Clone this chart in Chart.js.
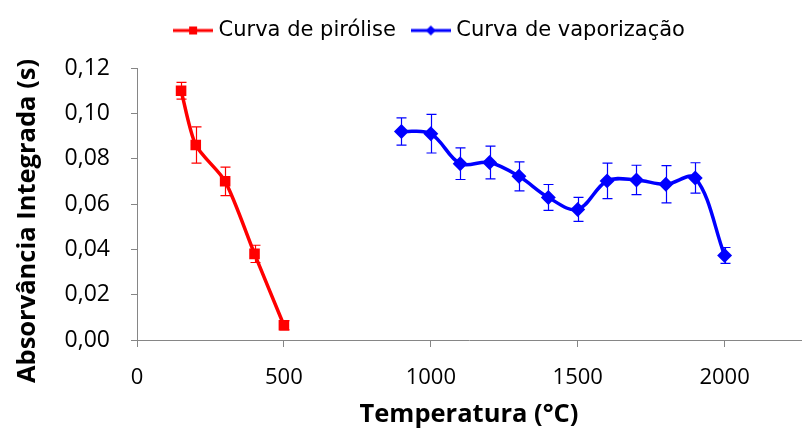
<!DOCTYPE html>
<html>
<head>
<meta charset="utf-8">
<script src="https://cdn.jsdelivr.net/npm/chart.js@4.4.1/dist/chart.umd.min.js"></script>
<style>
  html, body { margin: 0; padding: 0; background: #fff; overflow: hidden; }
  canvas { display: block; }
</style>
</head>
<body>
<canvas id="grafico" width="803" height="430"></canvas>
<script>
// Curva de pirólise (temperatura em °C, absorvância integrada em s)
const tempPirolise = [150, 200, 300, 400, 500];
const absPirolise = [0.110, 0.086, 0.070, 0.038, 0.0065];
const erroPirolise = [0.0037, 0.008, 0.0063, 0.0038, 0.002];

// Curva de vaporização
const tempVaporizacao = [900, 1000, 1100, 1200, 1300, 1400, 1500, 1600, 1700, 1800, 1900, 2000];
const absVaporizacao = [0.092, 0.091, 0.0778, 0.0783, 0.0722, 0.0629, 0.0576, 0.0702, 0.0706, 0.0687, 0.0715, 0.0373];
const erroVaporizacao = [0.006, 0.0085, 0.007, 0.0072, 0.0064, 0.0057, 0.0053, 0.0078, 0.0065, 0.0082, 0.0067, 0.0035];

// marcas dos eixos
const ticksX = [0, 500, 1000, 1500, 2000];
const ticksY = [0, 0.02, 0.04, 0.06, 0.08, 0.10, 0.12];

const nomes = ['Curva de pirólise', 'Curva de vaporização'];
const tituloX = 'Temperatura (°C)';
const tituloY = 'Absorvância Integrada (s)';

const vermelho = '#FF0000';
const azul = '#0000FF';
const cinza = '#868686';

// pares x/y para o chart
function pontos(xs, ys) {
    let p = [];
    for (let i = 0; i < xs.length; i++) {
        p.push({ x: xs[i], y: ys[i] });
    }
    return p;
}

// amostra da legenda: linha com o marcador no meio
function amostra(cor, tipo) {
    const c = document.createElement('canvas');
    c.width = 40;
    c.height = 14;
    const g = c.getContext('2d');
    g.strokeStyle = cor;
    g.lineWidth = 3;
    g.beginPath();
    g.moveTo(0, 7);
    g.lineTo(40, 7);
    g.stroke();
    g.fillStyle = cor;
    if (tipo === 'rect') {
        g.fillRect(16, 3, 8, 8);
    } else {
        g.beginPath();
        g.moveTo(20, 2);
        g.lineTo(25, 7);
        g.lineTo(20, 12);
        g.lineTo(15, 7);
        g.closePath();
        g.fill();
    }
    return c;
}

// barras de erro desenhadas com as escalas do gráfico
const barrasErro = {
    id: 'barrasErro',
    afterDatasetsDraw(chart) {
        const ctx = chart.ctx;
        const sx = chart.scales.x;
        const sy = chart.scales.y;
        chart.data.datasets.forEach(function (ds) {
            ctx.save();
            ctx.strokeStyle = ds.borderColor;
            ctx.lineWidth = 1.2;
            for (let i = 0; i < ds.data.length; i++) {
                const px = Math.round(sx.getPixelForValue(ds.data[i].x)) + 0.5;
                const topo = sy.getPixelForValue(ds.data[i].y + ds.erro[i]);
                const base = sy.getPixelForValue(ds.data[i].y - ds.erro[i]);
                ctx.beginPath();
                ctx.moveTo(px, topo);
                ctx.lineTo(px, base);
                ctx.moveTo(px - 5, topo);
                ctx.lineTo(px + 5, topo);
                ctx.moveTo(px - 5, base);
                ctx.lineTo(px + 5, base);
                ctx.stroke();
            }
            ctx.restore();
        });
    }
};

// título do eixo y
const tituloEixoY = {
    id: 'tituloEixoY',
    afterDraw(chart) {
        const ctx = chart.ctx;
        ctx.save();
        ctx.translate(28, 221);
        ctx.rotate(-Math.PI / 2);
        ctx.font = 'bold 25.5px "Open Sans"';
        ctx.fillStyle = '#000';
        ctx.textAlign = 'center';
        ctx.textBaseline = 'middle';
        ctx.fillText(tituloY, 0, 0);
        ctx.restore();
    }
};

// legenda mais alta, para afastar a área do gráfico
const alturaLegenda = {
    id: 'alturaLegenda',
    beforeUpdate(chart) {
        const lg = chart.legend;
        if (lg && !lg.ajustada) {
            const fitOriginal = lg.fit.bind(lg);
            lg.fit = function () {
                fitOriginal();
                lg.height = 68;
            };
            lg.ajustada = true;
        }
    }
};

const config = {
    type: 'line',
    data: {
        datasets: [
            {
                label: nomes[0],
                data: pontos(tempPirolise, absPirolise),
                erro: erroPirolise,
                borderColor: vermelho,
                backgroundColor: vermelho,
                borderWidth: 3.5,
                pointStyle: 'rect',
                pointRadius: 5,
                pointHoverRadius: 5,
                tension: 0.25,
                legendaImg: amostra(vermelho, 'rect')
            },
            {
                label: nomes[1],
                data: pontos(tempVaporizacao, absVaporizacao),
                erro: erroVaporizacao,
                borderColor: azul,
                backgroundColor: azul,
                borderWidth: 3.5,
                pointStyle: 'rectRot',
                pointRadius: 5,
                pointHoverRadius: 5,
                tension: 0.35,
                legendaImg: amostra(azul, 'rot')
            }
        ]
    },
    options: {
        responsive: false,
        animation: false,
        devicePixelRatio: 1,
        layout: { autoPadding: false, padding: { left: 62, right: 2, top: 0, bottom: 0 } },
        plugins: {
            tooltip: { enabled: false },
            legend: {
                position: 'top',
                labels: {
                    usePointStyle: true,
                    pointStyleWidth: 30,
                    padding: 20,
                    color: '#000',
                    font: { family: '"DejaVu Sans"', size: 21 },
                    generateLabels(chart) {
                        return chart.data.datasets.map(function (ds, i) {
                            return {
                                text: ds.label,
                                pointStyle: ds.legendaImg,
                                fillStyle: ds.borderColor,
                                strokeStyle: ds.borderColor,
                                lineWidth: 0,
                                datasetIndex: i,
                                fontColor: '#000'
                            };
                        });
                    }
                }
            }
        },
        scales: {
            x: {
                type: 'linear',
                min: 0,
                max: 2260,
                border: { display: true, color: cinza, width: 1 },
                grid: { display: true, drawOnChartArea: false, drawTicks: true, tickLength: 7, color: cinza },
                ticks: {
                    padding: 18,
                    color: '#000',
                    font: { family: '"Open Sans"', size: 22 },
                    maxRotation: 0,
                    autoSkip: false,
                    callback: function (v) { return String(v); }
                },
                afterBuildTicks(scale) {
                    scale.ticks = ticksX.map(function (v) { return { value: v }; });
                },
                title: {
                    display: true,
                    text: tituloX,
                    color: '#000',
                    font: { family: '"Open Sans"', size: 25.5, weight: 'bold' },
                    padding: { top: 0, bottom: 0 }
                },
                afterFit(scale) {
                    scale.height = 90;
                    scale.paddingRight = 0;
                    scale.paddingLeft = 0;
                }
            },
            y: {
                min: 0,
                max: 0.12,
                border: { display: true, color: cinza, width: 1 },
                grid: { display: true, drawOnChartArea: false, drawTicks: true, tickLength: 6, color: cinza },
                ticks: {
                    padding: 21,
                    color: '#000',
                    font: { family: '"Open Sans"', size: 23 },
                    autoSkip: false,
                    callback: function (v) { return v.toFixed(2).replace('.', ','); }
                },
                afterBuildTicks(scale) {
                    scale.ticks = ticksY.map(function (v) { return { value: v }; });
                },
                afterFit(scale) {
                    scale.width = 75;
                }
            }
        }
    },
    plugins: [barrasErro, tituloEixoY, alturaLegenda]
};

const grafico = new Chart(document.getElementById('grafico'), config);
</script>
</body>
</html>
